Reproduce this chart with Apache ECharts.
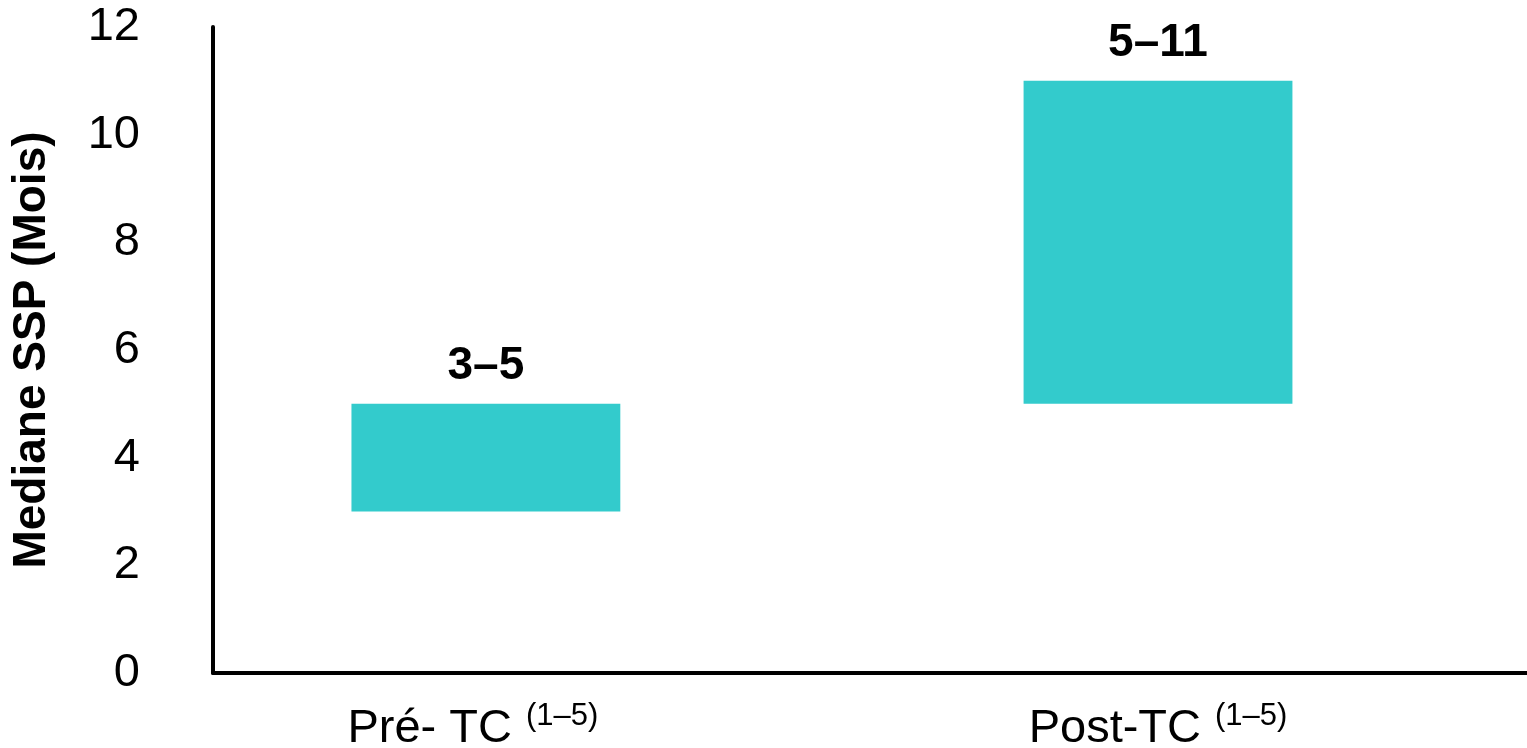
<!DOCTYPE html>
<html>
<head>
<meta charset="utf-8">
<title>Médiane SSP</title>
<script src="https://cdn.jsdelivr.net/npm/echarts@6/dist/echarts.min.js"></script>
<style>
  html, body { margin: 0; padding: 0; background: #ffffff; }
  #chart { width: 1527px; height: 748px; }
</style>
</head>
<body>
<div id="chart"></div>
<script>
// Median PFS range (months) before and after the treatment change
const categories = ['Pré- TC', 'Post-TC'];
const references = ['(1–5)', '(1–5)'];
const lowValues = [3, 5];
const highValues = [5, 11];
const yTicks = [0, 2, 4, 6, 8, 10, 12];

const barColor = '#33CBCC';
const fontFamily = '"Liberation Sans", Arial, Helvetica, sans-serif';

const rangeData = categories.map((c, i) => [i, lowValues[i], highValues[i]]);

const chart = echarts.init(document.getElementById('chart'), null, { renderer: 'canvas' });

chart.setOption({
  backgroundColor: '#ffffff',
  animation: false,
  grid: { left: 213, right: 0, top: 27, bottom: 75, containLabel: false, outerBoundsMode: 'none' },
  xAxis: {
    type: 'value',
    min: -0.406,
    max: 1.549,
    splitLine: { show: false },
    axisTick: { show: false },
    axisLine: { show: true, onZero: false, lineStyle: { color: '#000', width: 4 } },
    axisLabel: {
      customValues: categories.map((c, i) => i),
      margin: 28,
      formatter: function (v) {
        const i = Math.round(v);
        // the first label sits a little left of its bar
        const s = i === 0 ? 'sl' : 's';
        return '{m|' + categories[i] + '}{' + s + '|' + references[i] + '}';
      },
      rich: {
        m: { fontSize: 47, fontFamily: fontFamily, color: '#000' },
        s: { fontSize: 31, fontFamily: fontFamily, color: '#000', padding: [0, 0, 26, 14] },
        sl: { fontSize: 31, fontFamily: fontFamily, color: '#000', padding: [0, 26, 26, 14] }
      }
    }
  },
  yAxis: {
    type: 'value',
    min: yTicks[0],
    max: yTicks[yTicks.length - 1],
    interval: 2,
    name: 'Mediane SSP (Mois)',
    nameLocation: 'middle',
    nameGap: 158,
    nameTextStyle: { fontSize: 46, fontWeight: 'bold', fontFamily: fontFamily, color: '#000' },
    splitLine: { show: false },
    axisTick: { show: false },
    axisLine: { show: true, onZero: false, lineStyle: { color: '#000', width: 4 } },
    axisLabel: { fontSize: 47, fontFamily: fontFamily, color: '#000', margin: 73 }
  },
  series: [{
    type: 'custom',
    data: rangeData,
    encode: { x: 0, y: [1, 2] },
    renderItem: function (params, api) {
      const x = api.value(0);
      const lo = api.value(1);
      const hi = api.value(2);
      const pLo = api.coord([x, lo]);
      const pHi = api.coord([x, hi]);
      const w = api.size([0.4, 0])[0];
      return {
        type: 'group',
        children: [
          {
            type: 'rect',
            shape: { x: pLo[0] - w / 2, y: pHi[1], width: w, height: pLo[1] - pHi[1] },
            style: { fill: barColor }
          },
          {
            type: 'text',
            x: pHi[0],
            y: pHi[1] - 15,
            style: {
              text: lo + '–' + hi,
              fontSize: 46,
              fontWeight: 'bold',
              fontFamily: fontFamily,
              fill: '#000',
              align: 'center',
              verticalAlign: 'bottom'
            }
          }
        ]
      };
    }
  }]
});
</script>
</body>
</html>
